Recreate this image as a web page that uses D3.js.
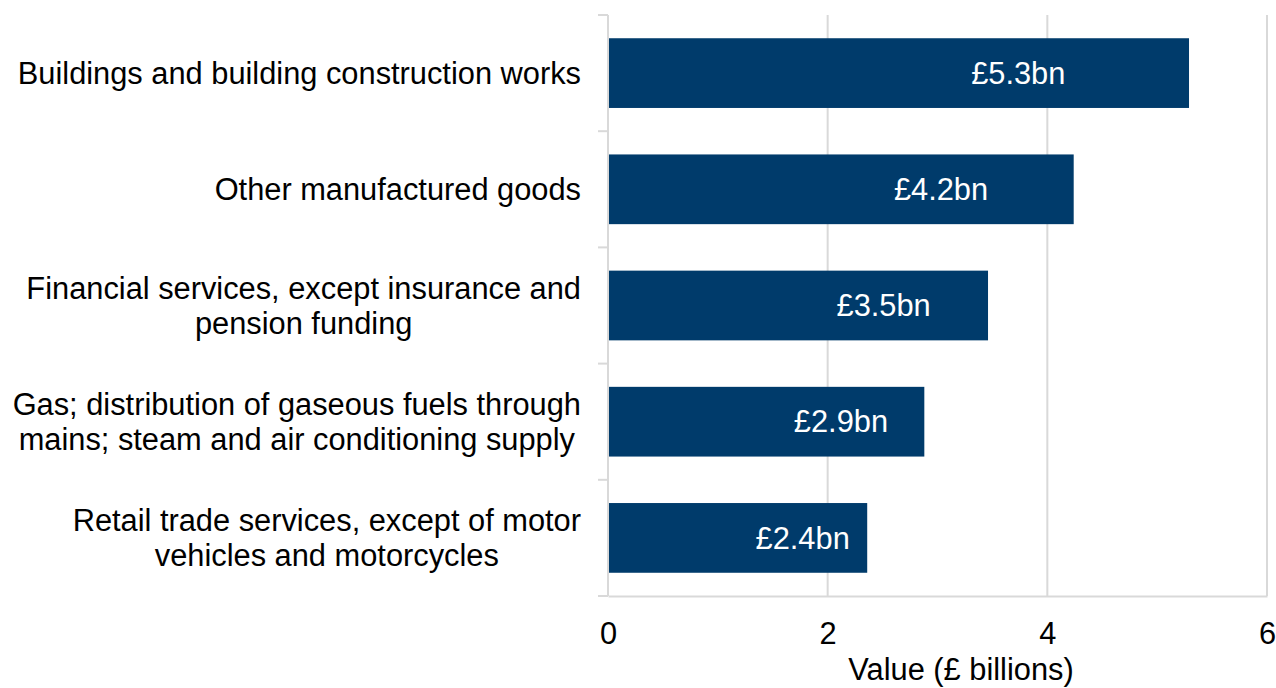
<!DOCTYPE html>
<html>
<head>
  <meta charset="utf-8">
  <title>Top products by value</title>
  <script src="https://d3js.org/d3.v7.min.js"></script>
  <style>
    body { margin: 0; background: #fff; }
    text { font-family: "Liberation Sans", Arial, sans-serif; }
  </style>
</head>
<body>
<svg id="chart" width="1276" height="688"></svg>
<script>
var categories = [
  "Buildings and building construction works",
  "Other manufactured goods",
  "Financial services, except insurance and\npension funding",
  "Gas; distribution of gaseous fuels through\nmains; steam and air conditioning supply",
  "Retail trade services, except of motor\nvehicles and motorcycles"
]
var values = [5.29, 4.24, 3.46, 2.88, 2.36]
var valueLabels = ["£5.3bn", "£4.2bn", "£3.5bn", "£2.9bn", "£2.4bn"]
var xTicks = [0, 2, 4, 6]
var xTitle = "Value (£ billions)"

var width = 1276
var height = 688
var margin = { top: 15, right: 9, bottom: 92, left: 608 }
var grey = "#d9d9d9"
var barColor = "#003b6b"
var fontSize = 30.8

var svg = d3.select("#chart")

var x = d3.scaleLinear()
  .domain([0, 6])
  .range([margin.left, width - margin.right])

var y = d3.scaleBand()
  .domain(categories)
  .range([margin.top, height - margin.bottom])
  .paddingInner(0.4)
  .paddingOuter(0.2)

var bottom = height - margin.bottom

// vertical gridlines
svg.append("g")
  .selectAll("line")
  .data(xTicks.filter(function (d) { return d > 0 }))
  .enter().append("line")
    .attr("x1", function (d) { return x(d) })
    .attr("x2", function (d) { return x(d) })
    .attr("y1", margin.top)
    .attr("y2", bottom)
    .attr("stroke", grey)
    .attr("stroke-width", 2)

// bars
svg.append("g")
  .selectAll("rect")
  .data(values)
  .enter().append("rect")
    .attr("x", x(0))
    .attr("y", function (d, i) { return y(categories[i]) })
    .attr("width", function (d) { return x(d) - x(0) })
    .attr("height", y.bandwidth())
    .attr("fill", barColor)

// value labels, sitting inside the bars
svg.append("g")
  .selectAll("text")
  .data(values)
  .enter().append("text")
    .attr("x", function (d) { return x(0) + 0.67 * (x(d) - x(0)) + 21 })
    .attr("y", function (d, i) { return y(categories[i]) + y.bandwidth() / 2 })
    .attr("dy", "0.35em")
    .attr("text-anchor", "middle")
    .attr("fill", "#fff")
    .attr("font-size", fontSize)
    .text(function (d, i) { return valueLabels[i] })

// left axis: line and ticks at band boundaries
var step = y.step()
var bounds = categories.map(function (c) { return y(c) - step * y.paddingInner() / 2 })
bounds.push(bottom)
bounds[0] = margin.top

var leftAxis = svg.append("g")
leftAxis.append("line")
  .attr("x1", x(0)).attr("x2", x(0))
  .attr("y1", margin.top).attr("y2", bottom)
  .attr("stroke", grey).attr("stroke-width", 2)
leftAxis.selectAll("line.tick")
  .data(bounds)
  .enter().append("line")
    .attr("class", "tick")
    .attr("x1", x(0) - 10).attr("x2", x(0))
    .attr("y1", function (d) { return d }).attr("y2", function (d) { return d })
    .attr("stroke", grey).attr("stroke-width", 2)

// category labels: block right edge at 581, lines centred within the block
var labelRight = 581
var lineHeight = 35
svg.append("g")
  .selectAll("text")
  .data(categories)
  .enter().append("text")
    .attr("text-anchor", "middle")
    .attr("font-size", fontSize)
    .attr("fill", "#000")
    .each(function (c) {
      var lines = c.split("\n")
      var cy = y(c) + y.bandwidth() / 2
      var t = d3.select(this)
      var spans = lines.map(function (ln, j) {
        return t.append("tspan")
          .attr("y", cy + (j - (lines.length - 1) / 2) * lineHeight)
          .attr("dy", "0.35em")
          .text(ln)
      })
      var maxW = d3.max(spans, function (s) { return s.node().getComputedTextLength() })
      spans.forEach(function (s) { s.attr("x", labelRight - maxW / 2) })
    })

// bottom axis
var xAxis = svg.append("g")
  .attr("transform", "translate(0," + bottom + ")")
  .call(d3.axisBottom(x).tickValues(xTicks).tickFormat(d3.format("d")).tickSize(0).tickPadding(26))
xAxis.select(".domain").attr("stroke", grey).attr("stroke-width", 2)
xAxis.selectAll("text")
  .attr("font-size", fontSize)
  .attr("fill", "#000")
  .style("font-family", "Liberation Sans, Arial, sans-serif")

svg.append("text")
  .attr("x", 961)
  .attr("y", 680)
  .attr("text-anchor", "middle")
  .attr("font-size", fontSize)
  .attr("fill", "#000")
  .text(xTitle)
</script>
</body>
</html>
